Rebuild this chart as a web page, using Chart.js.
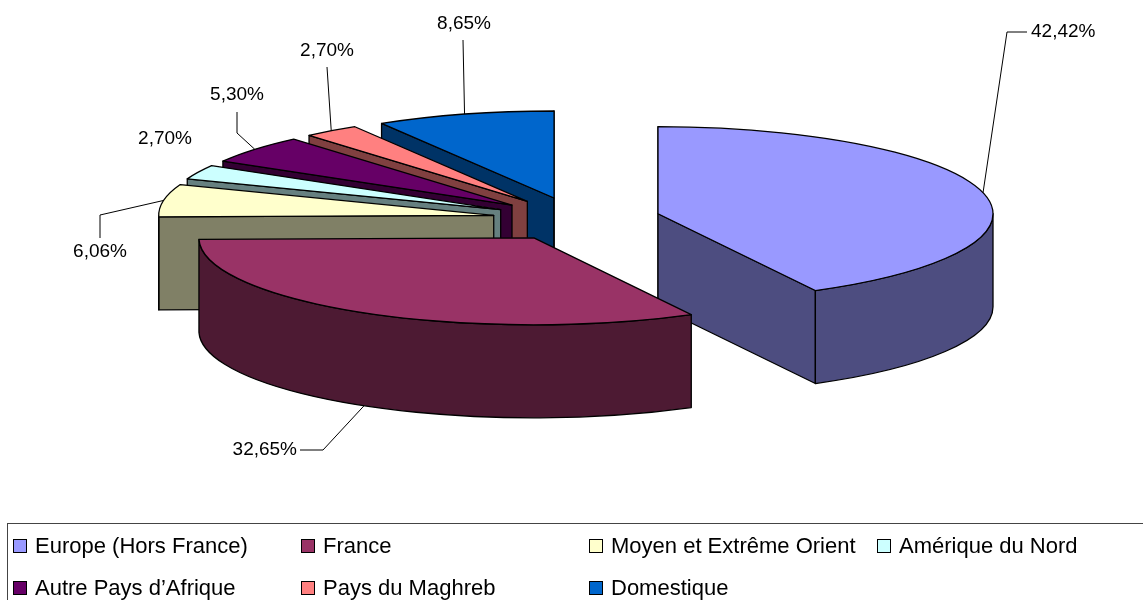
<!DOCTYPE html>
<html>
<head>
<meta charset="utf-8">
<script src="https://cdn.jsdelivr.net/npm/chart.js@4.4.0/dist/chart.umd.min.js"></script>
<style>
    html, body { margin: 0; padding: 0; background: #fff; }
    #wrap { position: relative; width: 1143px; height: 600px; overflow: hidden; }
    #legend {
        position: absolute; left: 7px; top: 523px; width: 1160px; height: 100px;
        border: 1px solid #444; box-sizing: border-box;
        font-family: "Liberation Sans", Arial, sans-serif; font-size: 22px; color: #000;
    }
    .item { position: absolute; height: 26px; display: flex; align-items: center; white-space: nowrap; }
    .sw { width: 12px; height: 12px; border: 1px solid #000; margin-right: 8px; }
</style>
</head>
<body>
<div id="wrap">
    <canvas id="pie" width="1143" height="600"></canvas>
    <div id="legend"></div>
</div>
<script>
const categories = ['Europe (Hors France)', 'France', 'Moyen et Extrême Orient', 'Amérique du Nord',
                    'Autre Pays d\u2019Afrique', 'Pays du Maghreb', 'Domestique'];
const shares = [42.42, 32.65, 6.06, 2.70, 5.30, 2.70, 8.65];
const topColors = ['#9999FF', '#993366', '#FFFFCC', '#CCFFFF', '#660066', '#FF8080', '#0066CC'];

// 3D look
const RADIUS = 335;
const TILT = 87 / 335;
const DEPTH = 93;
const EXPLODE = 84;

// where each percentage label sits, plus the bends of its leader line
const labelLayout = [
    { x: 1031, y: 32, align: 'left', bends: [[1007, 32], [1027, 32]] },
    { x: 297, y: 450, align: 'right', bends: [[323, 450], [300, 450]] },
    { x: 100, y: 252, align: 'center', bends: [[100, 215], [100, 238]] },
    { x: 165, y: 139, align: 'center', bends: [] },
    { x: 237, y: 95, align: 'center', bends: [[237, 133], [237, 112]] },
    { x: 327, y: 51, align: 'center', bends: [[327, 67]] },
    { x: 464, y: 24, align: 'center', bends: [[463, 40]] }
];

const shade = (hex, f) => {
    const n = parseInt(hex.slice(1), 16);
    const r = Math.round(((n >> 16) & 255) * f);
    const g = Math.round(((n >> 8) & 255) * f);
    const b = Math.round((n & 255) * f);
    return `rgb(${r},${g},${b})`;
};

const pie3d = {
    id: 'pie3d',
    beforeDatasetsDraw(chart) {
        const ctx = chart.ctx;
        const meta = chart.getDatasetMeta(0);
        const slices = meta.data.map((arc, i) => {
            const s = arc.startAngle, e = arc.endAngle, mid = (s + e) / 2;
            const d = arc.options.offset;
            return {
                i, s, e, mid,
                r: arc.outerRadius,
                ry: arc.outerRadius * TILT,
                ax: arc.x + Math.cos(mid) * d,
                ay: arc.y + Math.sin(mid) * d * TILT,
                top: arc.options.backgroundColor,
                side: shade(arc.options.backgroundColor, 0.5)
            };
        });

        ctx.save();
        ctx.lineWidth = 1.3;
        ctx.strokeStyle = '#000';
        ctx.lineJoin = 'round';

        // back slices first
        const order = slices.slice().sort((a, b) => Math.sin(a.mid) - Math.sin(b.mid));
        order.forEach(p => {
            const rim = a => [p.ax + p.r * Math.cos(a), p.ay + p.ry * Math.sin(a)];
            const face = a => {
                const [x, y] = rim(a);
                ctx.beginPath();
                ctx.moveTo(p.ax, p.ay);
                ctx.lineTo(x, y);
                ctx.lineTo(x, y + DEPTH);
                ctx.lineTo(p.ax, p.ay + DEPTH);
                ctx.closePath();
                ctx.fill();
                ctx.stroke();
            };
            ctx.fillStyle = p.side;
            if (Math.cos(p.s) <= 1e-6) face(p.s);
            if (Math.cos(p.e) >= -1e-6) face(p.e);

            const a0 = Math.max(p.s, 0), a1 = Math.min(p.e, Math.PI);
            if (a1 > a0) {
                ctx.beginPath();
                ctx.ellipse(p.ax, p.ay, p.r, p.ry, 0, a0, a1);
                ctx.ellipse(p.ax, p.ay + DEPTH, p.r, p.ry, 0, a1, a0, true);
                ctx.closePath();
                ctx.fill();
                ctx.stroke();
            }

            ctx.fillStyle = p.top;
            ctx.beginPath();
            ctx.moveTo(p.ax, p.ay);
            ctx.ellipse(p.ax, p.ay, p.r, p.ry, 0, p.s, p.e);
            ctx.closePath();
            ctx.fill();
            ctx.stroke();
        });

        // percentage labels with leader lines
        ctx.lineWidth = 1;
        ctx.font = '19px "Liberation Sans", Arial, sans-serif';
        ctx.fillStyle = '#000';
        ctx.textBaseline = 'middle';
        slices.forEach(p => {
            const lay = labelLayout[p.i];
            if (lay.bends.length) {
                const dy = Math.sin(p.mid) > 0 ? DEPTH : 0;
                ctx.beginPath();
                ctx.moveTo(p.ax + p.r * Math.cos(p.mid), p.ay + dy + p.ry * Math.sin(p.mid));
                lay.bends.forEach(([x, y]) => ctx.lineTo(x, y));
                ctx.stroke();
            }
            ctx.textAlign = lay.align;
            ctx.fillText(shares[p.i].toFixed(2).replace('.', ',') + '%', lay.x, lay.y);
        });
        ctx.restore();
        return false;
    }
};

new Chart(document.getElementById('pie'), {
    type: 'pie',
    data: {
        labels: categories,
        datasets: [{
            data: shares,
            backgroundColor: topColors,
            borderColor: '#000',
            borderWidth: 1,
            offset: EXPLODE,
            radius: RADIUS
        }]
    },
    options: {
        responsive: false,
        animation: false,
        events: [],
        layout: { padding: { left: 10, right: 0, top: 0, bottom: 162 } },
        plugins: { legend: { display: false }, tooltip: { enabled: false } }
    },
    plugins: [pie3d]
});

// legend, 4 columns like the original
const legend = document.getElementById('legend');
categories.forEach((name, i) => {
    const col = i % 4, row = Math.floor(i / 4);
    const item = document.createElement('div');
    item.className = 'item';
    item.style.left = (5 + 288 * col) + 'px';
    item.style.top = (9 + 42 * row) + 'px';
    item.innerHTML = `<span class="sw" style="background:${topColors[i]}"></span>${name}`;
    legend.appendChild(item);
});
</script>
</body>
</html>
